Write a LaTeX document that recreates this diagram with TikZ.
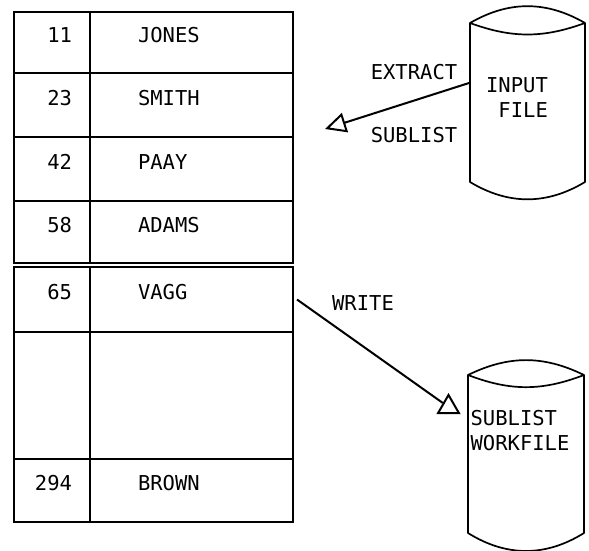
\documentclass[tikz,border=0pt]{standalone}
\usepackage{fontspec}
\setmonofont{DejaVu Sans Mono}
\usetikzlibrary{positioning,shapes.geometric,arrows.meta}

\tikzset{
  every node/.style={font=\ttfamily\fontsize{20.5}{25}\selectfont},
  numcell/.style={draw, line width=1.6pt, outer sep=0pt, inner xsep=18pt, inner ysep=0pt,
    text width=40pt, align=right, text height=15pt, text depth=15pt},
  namecell/.style={draw, line width=1.6pt, outer sep=0pt, inner xsep=48pt, inner ysep=0pt,
    text width=107pt, align=left, text height=15pt, text depth=15pt},
  filebody/.style={outer sep=0pt, inner sep=0pt},
  fileline/.style={line width=1.7pt, line join=round},
  flow/.style={line width=2pt, -{Triangle[open, length=21pt, width=20pt]}},
  wrhead/.style={draw, line width=2pt, regular polygon, regular polygon sides=3,
    minimum size=24pt, inner sep=0pt}
}

\begin{document}
\begin{tikzpicture}[x=1pt,y=-1pt]
   \useasboundingbox (0,0) rectangle (589,551);
   % sorted list, upper part
   \node[numcell, minimum height=61pt] (n11) at (52,42.5) {11};
   \node[namecell, minimum height=61pt, right=0pt of n11] (jones) {JONES};
   \node[numcell, minimum height=64pt, below=0pt of n11] (n23) {23};
   \node[namecell, minimum height=64pt, right=0pt of n23] (smith) {SMITH};
   \node[numcell, minimum height=64pt, below=0pt of n23] (n42) {42};
   \node[namecell, minimum height=64pt, right=0pt of n42] (paay) {PAAY};
   \node[numcell, minimum height=62pt, below=0pt of n42] (n58) {58};
   \node[namecell, minimum height=62pt, right=0pt of n58] (adams) {ADAMS};
   % sorted list, lower part
   \node[numcell, minimum height=65pt, below=4pt of n58] (n65) {65};
   \node[namecell, minimum height=65pt, right=0pt of n65] (vagg) {VAGG};
   \node[numcell, minimum height=127pt, below=0pt of n65] (nblank) {};
   \node[namecell, minimum height=127pt, right=0pt of nblank] (blank) {};
   \node[numcell, minimum height=63pt, below=0pt of nblank] (n294) {294};
   \node[namecell, minimum height=63pt, right=0pt of n294] (brown) {BROWN};

   % input file
   \node[filebody, minimum width=115pt, minimum height=159pt] (infile) at (527.5,102.5) {};
   \draw[fileline] (infile.north west) to[bend left=30] (infile.north east)
      to[bend left=20] (infile.north west) -- (infile.south west)
      to[bend right=31] (infile.south east) -- (infile.north east);
   \node[align=right] (infiletxt) at (517,97.5) {INPUT\\FILE};
   % sublist workfile
   \node[filebody, minimum width=116pt, minimum height=158pt] (workfile) at (526,454) {};
   \draw[fileline] (workfile.north west) to[bend left=26] (workfile.north east)
      to[bend left=21] (workfile.north west) -- (workfile.south west)
      to[bend right=32] (workfile.south east) -- (workfile.north east);
   \node[align=left] (workfiletxt) at (520,430.5) {SUBLIST\\WORKFILE};

   \coordinate (subtip) at (325,129);
   \draw[flow] (infile.161) -- (subtip);
   \node[wrhead] (writehead) at (448.5,407) {};
   \draw[line width=2pt] ([xshift=4pt]vagg.east) -- (writehead);
   \node (extract) at (414,72) {EXTRACT};
   \node (sublist) at (414,135) {SUBLIST};
   \node (write) at (363,303) {WRITE};
\end{tikzpicture}
\end{document}
